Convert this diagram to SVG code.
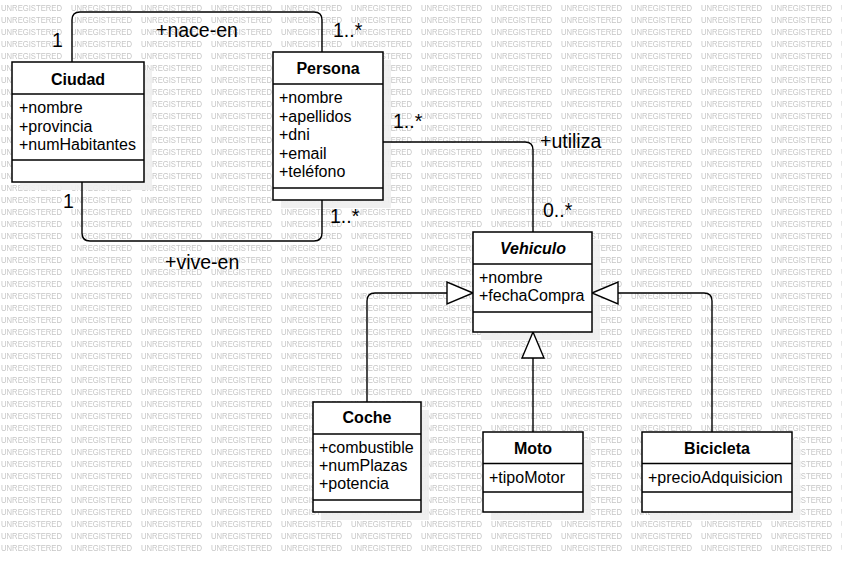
<svg xmlns="http://www.w3.org/2000/svg" width="842" height="562" viewBox="0 0 842 562">
<defs>
<pattern id="wm" patternUnits="userSpaceOnUse" x="0" y="0" width="70" height="12">
<text x="1" y="10.5" class="wmt" textLength="61" lengthAdjust="spacingAndGlyphs">UNREGISTERED</text>
</pattern>
</defs>
<style>
.wmt{font-family:"Liberation Sans",Arial,sans-serif;font-size:8.3px;fill:#c6c6c6}
.shadow{fill:#efefef;opacity:0.92}
.box{fill:#ffffff;stroke:#000;stroke-width:1.5}
.sep{stroke:#000;stroke-width:1.5;fill:none}
.title{font-family:"Liberation Sans",Arial,sans-serif;font-size:16px;font-weight:bold;text-anchor:middle;fill:#000}
.attr{font-family:"Liberation Sans",Arial,sans-serif;font-size:16px;fill:#000}
.edge{fill:none;stroke:#000;stroke-width:1.4}
.tri{fill:#fff;stroke:#000;stroke-width:1.4}
.lbl{font-family:"Liberation Sans",Arial,sans-serif;font-size:19.5px;fill:#000}
</style>
<rect x="0" y="0" width="842" height="562" fill="#fff"/>
<rect x="0" y="0" width="842" height="556" fill="url(#wm)"/>

<g id="shadows">
<rect class="shadow" x="20" y="70" width="132" height="120"/>
<rect class="shadow" x="281" y="60" width="110" height="148"/>
<rect class="shadow" x="481" y="240" width="119" height="100"/>
<rect class="shadow" x="321" y="410" width="108" height="110"/>
<rect class="shadow" x="491" y="440" width="100" height="80"/>
<rect class="shadow" x="650" y="440" width="150" height="80"/>
</g>

<g id="connectors">
<path class="edge" d="M72,62 V20 Q72,12 80,12 H314 Q322,12 322,20 V52"/>
<path class="edge" d="M82,182 V233 Q82,241 90,241 H314 Q322,241 322,233 V200"/>
<path class="edge" d="M383,142 H525 Q533,142 533,150 V232"/>
<path class="edge" d="M367,402 V301 Q367,293 375,293 H447"/>
<polygon class="tri" points="473,293 447,282 447,304"/>
<path class="edge" d="M712,432 V301 Q712,293 704,293 H618"/>
<polygon class="tri" points="592,293 618,282 618,304"/>
<path class="edge" d="M533,432 V358"/>
<polygon class="tri" points="533,332 522,358 544,358"/>
<text class="lbl" x="52" y="47">1</text>
<text class="lbl" x="156" y="37">+nace-en</text>
<text class="lbl" x="333" y="37">1..*</text>
<text class="lbl" x="63" y="208">1</text>
<text class="lbl" x="330" y="223">1..*</text>
<text class="lbl" x="165" y="269">+vive-en</text>
<text class="lbl" x="393" y="128">1..*</text>
<text class="lbl" x="540" y="148">+utiliza</text>
<text class="lbl" x="543" y="217">0..*</text>
</g>

<g id="ciudad">
<rect class="box" x="12" y="62" width="132" height="120"/>
<line class="sep" x1="12" y1="94" x2="144" y2="94"/>
<line class="sep" x1="12" y1="160" x2="144" y2="160"/>
<text class="title" x="78" y="84.5">Ciudad</text>
<text class="attr" x="19" y="113">+nombre</text>
<text class="attr" x="19" y="131.5">+provincia</text>
<text class="attr" x="19" y="150">+numHabitantes</text>
</g>

<g id="persona">
<rect class="box" x="273" y="52" width="110" height="148"/>
<line class="sep" x1="273" y1="84" x2="383" y2="84"/>
<line class="sep" x1="273" y1="188" x2="383" y2="188"/>
<text class="title" x="328" y="74">Persona</text>
<text class="attr" x="279" y="103.3">+nombre</text>
<text class="attr" x="279" y="121.8">+apellidos</text>
<text class="attr" x="279" y="140.3">+dni</text>
<text class="attr" x="279" y="158.8">+email</text>
<text class="attr" x="279" y="177.3">+teléfono</text>
</g>

<g id="vehiculo">
<rect class="box" x="473" y="232" width="119" height="100"/>
<line class="sep" x1="473" y1="264" x2="592" y2="264"/>
<line class="sep" x1="473" y1="312" x2="592" y2="312"/>
<text class="title" x="533" y="254" font-style="italic">Vehiculo</text>
<text class="attr" x="479" y="283.3">+nombre</text>
<text class="attr" x="479" y="301">+fechaCompra</text>
</g>

<g id="coche">
<rect class="box" x="313" y="402" width="108" height="110"/>
<line class="sep" x1="313" y1="434" x2="421" y2="434"/>
<line class="sep" x1="313" y1="500" x2="421" y2="500"/>
<text class="title" x="367" y="423">Coche</text>
<text class="attr" x="319" y="453.3">+combustible</text>
<text class="attr" x="319" y="471">+numPlazas</text>
<text class="attr" x="319" y="489.3">+potencia</text>
</g>

<g id="moto">
<rect class="box" x="483" y="432" width="100" height="80"/>
<line class="sep" x1="483" y1="463.5" x2="583" y2="463.5"/>
<line class="sep" x1="483" y1="492" x2="583" y2="492"/>
<text class="title" x="533" y="453.5">Moto</text>
<text class="attr" x="489" y="483.3">+tipoMotor</text>
</g>

<g id="bicicleta">
<rect class="box" x="642" y="432" width="150" height="80"/>
<line class="sep" x1="642" y1="463.5" x2="792" y2="463.5"/>
<line class="sep" x1="642" y1="492" x2="792" y2="492"/>
<text class="title" x="717" y="453.5">Bicicleta</text>
<text class="attr" x="648" y="483.3">+precioAdquisicion</text>
</g>
</svg>
